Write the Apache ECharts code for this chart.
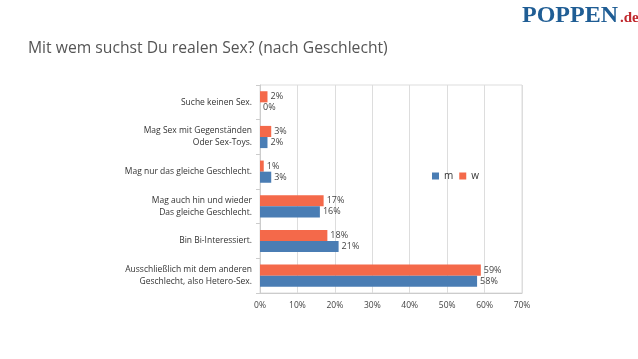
<!DOCTYPE html>
<html><head><meta charset="utf-8">
<script src="https://cdn.jsdelivr.net/npm/echarts@6/dist/echarts.min.js"></script>
<style>html,body{margin:0;padding:0;background:#fff}#c{width:638px;height:359px}</style>
</head><body><div id="c"></div>
<script>
const categories = [
  "Suche keinen Sex.",
  "Mag Sex mit Gegenständen\nOder Sex-Toys.",
  "Mag nur das gleiche Geschlecht.",
  "Mag auch hin und wieder\nDas gleiche Geschlecht.",
  "Bin Bi-Interessiert.",
  "Ausschließlich mit dem anderen\nGeschlecht, also Hetero-Sex."
];
const mValues = [0, 2, 3, 16, 21, 58];
const wValues = [2, 3, 1, 17, 18, 59];
const xTicks = [0, 10, 20, 30, 40, 50, 60, 70];

const chart = echarts.init(document.getElementById('c'), null, {renderer: 'canvas'});
const lbl = {show: true, position: 'right', formatter: '{c}%', fontSize: 9, color: '#444', fontFamily: 'Open Sans', distance: 3};
chart.setOption({
  animation: false,
  backgroundColor: '#fff',
  title: [{
    text: 'Mit wem suchst Du realen Sex? (nach Geschlecht)',
    left: 23, top: 36,
    textStyle: {fontFamily: 'Open Sans', fontWeight: 'normal', fontSize: 15.7, color: '#555'}
  }],
  graphic: [
    {type: 'text', left: 522, top: 4, style: {text: 'POPPEN', font: 'bold 24px "Liberation Serif"', fill: '#1f5d94'}},
    {type: 'text', left: 620, top: 11, style: {text: '.de', font: 'bold 15px "Liberation Serif"', fill: '#c0282d'}}
  ],
  legend: {
    data: ['m', 'w'], left: 427, top: 166, itemWidth: 7, itemHeight: 7, itemGap: 6,
    icon: 'rect', textStyle: {fontSize: 10, color: '#333', fontFamily: 'Open Sans'}
  },
  grid: {left: 260, right: 116, top: 85, bottom: 66, show: true, borderColor: '#ddd', borderWidth: 1, containLabel: false},
  xAxis: {
    type: 'value', min: 0, max: 70, interval: 10,
    axisLine: {show: true, lineStyle: {color: '#ccc'}},
    axisTick: {show: false},
    splitLine: {lineStyle: {color: '#ddd'}},
    axisLabel: {formatter: v => xTicks.includes(v) ? v + '%' : '', fontSize: 8.5, color: '#444', fontFamily: 'Open Sans', margin: 8}
  },
  yAxis: {
    type: 'category', data: categories, inverse: true,
    axisLine: {show: true, lineStyle: {color: '#ccc'}},
    axisTick: {show: true, length: 4, lineStyle: {color: '#ccc'}},
    axisLabel: {fontSize: 8.5, color: '#333', fontFamily: 'Open Sans', margin: 8, lineHeight: 12, align: 'right'}
  },
  series: [
    {name: 'w', type: 'bar', data: wValues, itemStyle: {color: '#f4694a'}, barGap: '0%', barCategoryGap: '36%', label: lbl},
    {name: 'm', type: 'bar', data: mValues, itemStyle: {color: '#4a7db4'}, barGap: '0%', barCategoryGap: '36%', label: lbl}
  ]
});
</script></body></html>
